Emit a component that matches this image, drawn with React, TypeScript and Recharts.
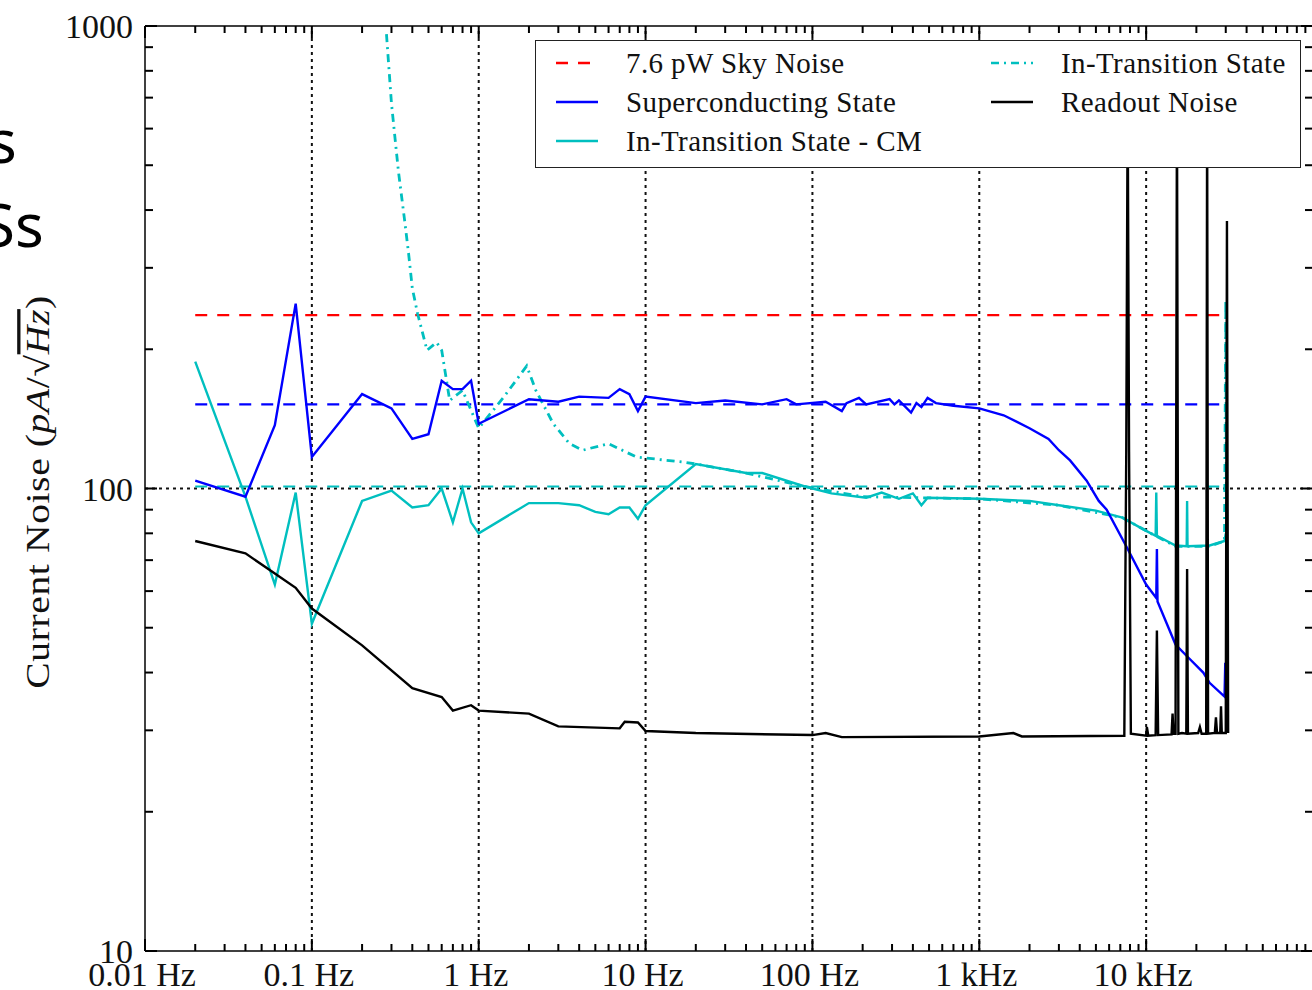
import React from 'react';
import { LineChart, Line, XAxis, YAxis, ReferenceLine, Legend } from 'recharts';

// frequencies in Hz, noise in pA/sqrt(Hz)
const superFreq = [0.02, 0.04, 0.06, 0.08, 0.1, 0.2, 0.3, 0.4, 0.5, 0.6, 0.7, 0.8, 0.9, 1.0, 2, 3, 4, 6, 7, 8, 9, 10, 20, 30, 50, 70, 80, 120, 150, 160, 190, 210, 290, 310, 330, 390, 420, 450, 490, 550, 700, 1000, 1400, 2000, 2600, 3000, 3500, 4400, 5200, 5800, 7600, 10000, 11500, 11600, 11700, 15000, 18000, 22000, 24000, 29500, 29800, 30100];
const superNoise = [104, 96, 137, 251, 117, 160, 149, 128, 131, 171, 164, 164, 171, 138, 156, 154, 158, 157, 164, 160, 147, 158, 153, 155, 152, 156, 152, 154, 147, 153, 157, 152, 156, 152, 155, 146, 153, 150, 157, 153, 151, 149, 144, 135, 128, 121, 115, 104, 94, 90, 75, 62, 58, 74, 57, 46, 43, 40, 38, 35.5, 42, 35];

const cmFreq = [0.02, 0.04, 0.06, 0.08, 0.1, 0.2, 0.3, 0.4, 0.5, 0.6, 0.7, 0.8, 0.9, 1.0, 2, 3, 4, 5, 6, 7, 8, 9, 10, 20, 40, 50, 90, 130, 210, 260, 330, 400, 450, 490, 1000, 2000, 3000, 5000, 7200, 10000, 11400, 11500, 11600, 15000, 17500, 17600, 17700, 24000, 29500, 30000];
const cmNoise = [188, 96, 62, 98, 51, 94, 99, 91, 92, 100, 84.5, 100, 84.5, 80, 93, 93, 92, 89, 88, 91, 91, 86, 92, 113, 108, 108, 101, 97.6, 95.5, 98, 95, 97.6, 92, 95.5, 95, 94, 92, 89.6, 86.5, 81, 79, 98, 79, 75.3, 75, 94, 75, 75.3, 77, 80];

const transFreq = [0.28, 0.3, 0.33, 0.36, 0.38, 0.4, 0.43, 0.49, 0.56, 0.6, 0.67, 0.8, 1.0, 1.4, 1.94, 2.2, 2.8, 3.5, 4.2, 6, 8.8, 17, 20, 40, 90, 200, 1000, 3000, 7200, 10000, 15000, 24000, 29500, 30000, 30300];
const transNoise = [960, 680, 486, 379, 322, 271, 239, 199, 207, 199, 155, 163, 135, 157, 184, 163, 138, 125, 121, 125, 117, 114, 113, 108, 101, 96, 95, 92, 86.5, 81, 75, 75, 77, 255, 78];

const readFreq = [0.02, 0.04, 0.06, 0.08, 0.1, 0.2, 0.4, 0.6, 0.7, 0.9, 1.0, 2, 3, 7, 7.5, 9, 10, 20, 100, 120, 150, 1000, 1600, 1800, 7400, 7600, 7750, 7900, 8100, 10000, 10100, 10300, 11400, 11600, 11800, 14200, 14400, 14600, 15000, 15300, 15600, 16400, 17400, 17600, 17800, 20500, 21000, 21500, 22900, 23200, 23500, 25800, 26200, 26600, 27800, 28100, 28400, 30000, 30500, 31000];
const readNoise = [77, 72.4, 65.5, 61, 55, 45.8, 37, 35.4, 33.1, 34, 33.1, 32.6, 30.6, 30.3, 31.3, 31.2, 29.9, 29.6, 29.3, 29.6, 29, 29.1, 29.6, 29.1, 29.2, 120, 700, 120, 29.5, 29.2, 30.5, 29.2, 29.3, 49.3, 29.3, 29.4, 32.6, 29.5, 29.5, 700, 29.5, 29.6, 29.5, 67, 29.5, 29.6, 30.5, 29.5, 29.5, 700, 29.5, 29.6, 32, 29.6, 29.6, 33.8, 29.6, 29.6, 379, 29.6];

// flat reference levels
const levelFreq = [0.02, 30000];
const skyLevel = [237, 237];
const superLevel = [152, 152];
const transLevel = [101, 101];

const xMajor = [0.01, 0.1, 1, 10, 100, 1000, 10000, 100000];
const xLabels = ['0.01 Hz', '0.1 Hz', '1 Hz', '10 Hz', '100 Hz', '1 kHz', '10 kHz', ''];
const yMajor = [10, 100, 1000];
const yLabels = ['10', '100', '1000'];
const gridX = [0.1, 1, 10, 100, 1000, 10000];
const gridY = [100];

const legendNames = ['7.6 pW Sky Noise', 'Superconducting State', 'In-Transition State - CM', 'In-Transition State', 'Readout Noise'];

const FONT = '"Liberation Serif", "Times New Roman", serif';
const BLUE = '#0000ff';
const CYAN = '#00bfbf';
const RED = '#ff0000';

const zip = (fs: number[], vs: number[]) => fs.map((f, i) => ({ f, v: vs[i] }));
const withMinor = (majors: number[]) => {
  const out: number[] = [];
  majors.forEach((m, i) => {
    out.push(m);
    if (i < majors.length - 1) for (let k = 2; k <= 9; k++) out.push(m * k);
  });
  return out;
};

const xTicks = withMinor(xMajor);
const yTicks = withMinor(yMajor);

const BottomTick = (p: any) => {
  const i = xMajor.indexOf(p.payload.value);
  return (
    <g>
      <line x1={p.x} y1={p.y} x2={p.x} y2={p.y - (i >= 0 ? 12 : 7)} stroke="#000" strokeWidth={2} />
      {i >= 0 && xLabels[i] ? (
        <text x={p.x - 3} y={p.y + 35} textAnchor="middle" fontFamily={FONT} fontSize={34} fill="#111">{xLabels[i]}</text>
      ) : null}
    </g>
  );
};

const TopTick = (p: any) => {
  const major = xMajor.indexOf(p.payload.value) >= 0;
  return <line x1={p.x} y1={p.y} x2={p.x} y2={p.y + (major ? 12 : 7)} stroke="#000" strokeWidth={2} />;
};

const LeftTick = (p: any) => {
  const i = yMajor.indexOf(p.payload.value);
  return (
    <g>
      <line x1={p.x} y1={p.y} x2={p.x + (i >= 0 ? 12 : 8)} y2={p.y} stroke="#000" strokeWidth={2} />
      {i >= 0 ? (
        <text x={p.x - 12} y={p.y + 12} textAnchor="end" fontFamily={FONT} fontSize={34} fill="#111">{yLabels[i]}</text>
      ) : null}
    </g>
  );
};

const RightTick = (p: any) => {
  const major = yMajor.indexOf(p.payload.value) >= 0;
  return <line x1={p.x} y1={p.y} x2={p.x - (major ? 12 : 8)} y2={p.y} stroke="#000" strokeWidth={2} />;
};

// CM-like wide serif: stretch along the text direction
const YLabel = () => (
  <text transform="translate(38 492) rotate(-90) scale(1.2 1)" x={0} y={0} textAnchor="middle" dominantBaseline="central"
    fontFamily={FONT} fontSize={33} letterSpacing={0.5} fill="#111">
    Current Noise (<tspan fontStyle="italic">pA</tspan>/√<tspan fontStyle="italic" textDecoration="overline">Hz</tspan>)
  </text>
);

const legendItems = [
  { name: legendNames[0], color: RED, dash: '12 10', col: 0, row: 0 },
  { name: legendNames[1], color: BLUE, dash: undefined, col: 0, row: 1 },
  { name: legendNames[2], color: CYAN, dash: undefined, col: 0, row: 2 },
  { name: legendNames[3], color: CYAN, dash: '8 5 2 5', col: 1, row: 0 },
  { name: legendNames[4], color: '#000', dash: undefined, col: 1, row: 1 },
];

const LegendBox = () => (
  <div style={{ position: 'relative', width: 766, height: 128, boxSizing: 'border-box', border: '1.5px solid #222', background: '#fff' }}>
    {legendItems.map((it) => (
      <div key={it.name} style={{ position: 'absolute', left: it.col ? 455 : 20, top: [22, 61, 100][it.row] - 16, height: 32, display: 'flex', alignItems: 'center' }}>
        <svg width={42} height={32}>
          <line x1={0} y1={16} x2={42} y2={16} stroke={it.color} strokeWidth={2.5} strokeDasharray={it.dash} />
        </svg>
        <span style={{ marginLeft: 28, fontFamily: FONT, fontSize: 29, letterSpacing: 0.4, color: '#111', whiteSpace: 'nowrap' }}>{it.name}</span>
      </div>
    ))}
  </div>
);

export default function App() {
  const xDomain = [0.01, 100000];
  const yDomain = [10, 1000];
  return (
    <div style={{ position: 'absolute', left: 0, top: 0, width: 1312, height: 990, overflow: 'hidden', background: '#fff' }}>
      <svg width={80} height={300} style={{ position: 'absolute', left: 0, top: 0 }}>
        <text x={-12} y={163} fontFamily='"Noto Sans", sans-serif' fontSize={60} fill="#000">s</text>
        <text x={-18} y={247} fontFamily='"Noto Sans", sans-serif' fontSize={60} fill="#000">Ss</text>
      </svg>
      <LineChart width={1320} height={990} margin={{ top: 25, right: 6, bottom: 38, left: 144 }}>
        <XAxis dataKey="f" type="number" scale="log" domain={xDomain} allowDataOverflow ticks={xTicks} interval={0}
          height={1} tickSize={0} tickMargin={0} tickLine={false} tick={(p: any) => <BottomTick {...p} />}
          axisLine={{ stroke: '#000', strokeWidth: 1.5 }} />
        <XAxis xAxisId="top" orientation="top" dataKey="f" type="number" scale="log" domain={xDomain} allowDataOverflow ticks={xTicks} interval={0}
          height={1} tickSize={0} tickMargin={0} tickLine={false} tick={(p: any) => <TopTick {...p} />}
          axisLine={{ stroke: '#000', strokeWidth: 1.5 }} />
        <YAxis type="number" scale="log" domain={yDomain} allowDataOverflow ticks={yTicks} interval={0}
          width={1} tickSize={0} tickMargin={0} tickLine={false} tick={(p: any) => <LeftTick {...p} />}
          axisLine={{ stroke: '#000', strokeWidth: 1.5 }} label={{ content: () => <YLabel /> }} />
        <YAxis yAxisId="right" orientation="right" type="number" scale="log" domain={yDomain} allowDataOverflow ticks={yTicks} interval={0}
          width={1} tickSize={0} tickMargin={0} tickLine={false} tick={(p: any) => <RightTick {...p} />}
          axisLine={{ stroke: '#000', strokeWidth: 1.5 }} />
        {gridX.map((g) => (
          <ReferenceLine key={'gx' + g} x={g} stroke="#111" strokeWidth={2} strokeDasharray="3 4" />
        ))}
        {gridY.map((g) => (
          <ReferenceLine key={'gy' + g} y={g} stroke="#111" strokeWidth={2} strokeDasharray="3 4" />
        ))}
        <Line data={zip(levelFreq, skyLevel)} dataKey="v" stroke={RED} strokeWidth={2.2} strokeDasharray="12 10" dot={false} activeDot={false} isAnimationActive={false} />
        <Line data={zip(levelFreq, superLevel)} dataKey="v" stroke={BLUE} strokeWidth={2.2} strokeDasharray="12 10" dot={false} activeDot={false} isAnimationActive={false} />
        <Line data={zip(levelFreq, transLevel)} dataKey="v" stroke={CYAN} strokeWidth={2.2} strokeDasharray="12 10" dot={false} activeDot={false} isAnimationActive={false} />
        <Line data={zip(transFreq, transNoise)} dataKey="v" stroke={CYAN} strokeWidth={2.8} strokeDasharray="8 5 2 5" dot={false} activeDot={false} isAnimationActive={false} />
        <Line data={zip(cmFreq, cmNoise)} dataKey="v" stroke={CYAN} strokeWidth={2.4} dot={false} activeDot={false} isAnimationActive={false} />
        <Line data={zip(superFreq, superNoise)} dataKey="v" stroke={BLUE} strokeWidth={2.4} dot={false} activeDot={false} isAnimationActive={false} />
        <Line data={zip(readFreq, readNoise)} dataKey="v" stroke="#000" strokeWidth={2.4} dot={false} activeDot={false} isAnimationActive={false} />
        <Legend layout="horizontal" verticalAlign="middle" align="center"
          wrapperStyle={{ left: 535, top: 40, width: 766, height: 128 }} content={() => <LegendBox />} />
      </LineChart>
    </div>
  );
}
